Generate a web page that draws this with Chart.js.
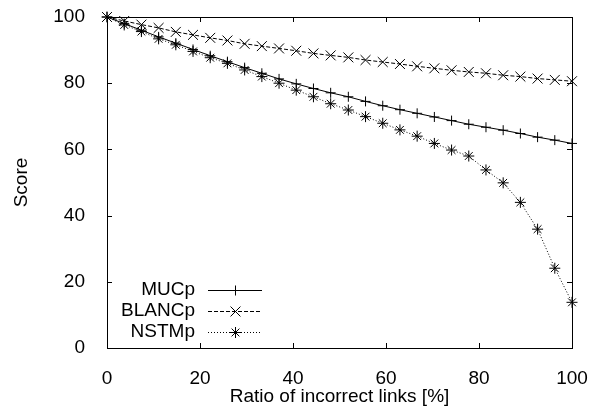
<!DOCTYPE html>
<html>
<head>
<meta charset="utf-8">
<script src="https://cdn.jsdelivr.net/npm/chart.js@4.4.1/dist/chart.umd.min.js"></script>
<style>
  html, body { margin: 0; padding: 0; background: #fff; }
  #wrap { width: 604px; height: 414px; }
</style>
</head>
<body>
<div id="wrap"><canvas id="scoreChart"></canvas></div>
<script>
// ratio of incorrect links [%], one sample every 1/27 of the range
const ratios = [0, 3.7, 7.4, 11.1, 14.8, 18.5, 22.2, 25.9, 29.6, 33.3, 37.0, 40.7, 44.4, 48.1,
  51.9, 55.6, 59.3, 63.0, 66.7, 70.4, 74.1, 77.8, 81.5, 85.2, 88.9, 92.6, 96.3, 100];
const mucp = [100, 98.0, 96.0, 94.0, 92.1, 90.2, 88.3, 86.5, 84.7, 83.0, 81.3, 79.8, 78.4, 77.1,
  75.9, 74.5, 73.2, 72.0, 70.9, 69.8, 68.7, 67.6, 66.7, 65.8, 64.8, 63.7, 62.8, 61.8];
const blancp = [100, 98.8, 97.7, 96.7, 95.5, 94.6, 93.7, 92.9, 91.9, 91.2, 90.5, 89.8, 89.0, 88.4,
  87.8, 87.0, 86.4, 85.8, 85.1, 84.5, 83.9, 83.4, 83.0, 82.4, 82.0, 81.4, 81.0, 80.6];
const nstmp = [100, 97.6, 95.6, 93.4, 91.6, 89.6, 87.7, 86.0, 84.0, 82.0, 80.0, 77.9, 75.9, 73.8,
  71.9, 69.9, 67.9, 65.9, 64.0, 61.8, 59.8, 58.0, 53.8, 49.9, 44.0, 35.9, 24.1, 13.8];
const seriesNames = ['MUCp', 'BLANCp', 'NSTMp'];
const axisTicks = [0, 20, 40, 60, 80, 100];

const FONT = 'Liberation Sans, Arial, Helvetica, sans-serif';
const FONT_SIZE = 19;

function toPoints(values) {
  return values.map(function (v, i) { return { x: ratios[i], y: v }; });
}

function makeSet(label, values, style, dash, radius) {
  return {
    label: label,
    data: toPoints(values),
    borderColor: '#000',
    backgroundColor: '#000',
    borderWidth: 1,
    borderDash: dash,
    pointStyle: style,
    pointRadius: radius,
    pointBorderWidth: 1,
    pointBorderColor: '#000',
    tension: 0,
    clip: false
  };
}

// small marker painter for the legend samples
function drawMarker(ctx, style, r, x, y) {
  ctx.beginPath();
  if (style === 'cross' || style === 'star') {
    ctx.moveTo(x - r, y); ctx.lineTo(x + r, y);
    ctx.moveTo(x, y - r); ctx.lineTo(x, y + r);
  }
  if (style === 'crossRot' || style === 'star') {
    const d = Math.cos(Math.PI / 4) * r;
    ctx.moveTo(x - d, y - d); ctx.lineTo(x + d, y + d);
    ctx.moveTo(x - d, y + d); ctx.lineTo(x + d, y - d);
  }
  ctx.stroke();
}

// gnuplot style frame: full border, ticks pointing inwards on all four sides,
// and a key in the lower left corner with the text on the left of the sample
const framePlugin = {
  id: 'framePlugin',
  beforeDatasetsDraw: function (chart) {
    const ctx = chart.ctx;
    const a = chart.chartArea;
    const xs = chart.scales.x;
    const ys = chart.scales.y;
    const len = 5;
    ctx.save();
    ctx.strokeStyle = '#000';
    ctx.lineWidth = 1;
    ctx.setLineDash([]);
    ctx.strokeRect(Math.round(a.left) + 0.5, Math.round(a.top) + 0.5,
      Math.round(a.right - a.left), Math.round(a.bottom - a.top));
    ctx.beginPath();
    axisTicks.forEach(function (t) {
      const px = Math.round(xs.getPixelForValue(t)) + 0.5;
      ctx.moveTo(px, a.bottom); ctx.lineTo(px, a.bottom - len);
      ctx.moveTo(px, a.top); ctx.lineTo(px, a.top + len);
      const py = Math.round(ys.getPixelForValue(t)) + 0.5;
      ctx.moveTo(a.left, py); ctx.lineTo(a.left + len, py);
      ctx.moveTo(a.right, py); ctx.lineTo(a.right - len, py);
    });
    ctx.stroke();
    ctx.restore();
  },
  afterDraw: function (chart) {
    const ctx = chart.ctx;
    const a = chart.chartArea;
    ctx.save();
    ctx.font = FONT_SIZE + 'px ' + FONT;
    ctx.textAlign = 'right';
    ctx.textBaseline = 'middle';
    ctx.fillStyle = '#000';
    ctx.strokeStyle = '#000';
    ctx.lineWidth = 1;
    chart.data.datasets.forEach(function (ds, i) {
      const y = a.top + 273 + i * 21;
      ctx.fillText(ds.label, a.left + 88, y);
      ctx.setLineDash(ds.borderDash);
      ctx.beginPath();
      ctx.moveTo(a.left + 101, y + 0.5);
      ctx.lineTo(a.left + 155, y + 0.5);
      ctx.stroke();
      ctx.setLineDash([]);
      drawMarker(ctx, ds.pointStyle, ds.pointRadius, a.left + 128.5, y + 0.5);
    });
    ctx.restore();
  }
};

const ctx = document.getElementById('scoreChart');
new Chart(ctx, {
  type: 'line',
  data: {
    datasets: [
      makeSet(seriesNames[0], mucp, 'cross', [], 5),
      makeSet(seriesNames[1], blancp, 'crossRot', [4, 2], 7),
      makeSet(seriesNames[2], nstmp, 'star', [1, 2], 5.5)
    ]
  },
  options: {
    responsive: true,
    maintainAspectRatio: false,
    animation: false,
    layout: { padding: { top: 17, right: 32, bottom: 0, left: 0 } },
    plugins: {
      legend: { display: false },
      tooltip: { enabled: false }
    },
    scales: {
      x: {
        type: 'linear',
        min: 0,
        max: 100,
        afterBuildTicks: function (scale) {
          scale.ticks = axisTicks.map(function (v) { return { value: v }; });
        },
        afterFit: function (scale) {
          scale.height = 66;
          scale.paddingLeft = 0;
          scale.paddingRight = 0;
        },
        grid: { display: false },
        border: { display: false },
        ticks: {
          color: '#000',
          padding: 11,
          maxRotation: 0,
          font: { family: FONT, size: FONT_SIZE }
        },
        title: {
          display: true,
          text: 'Ratio of incorrect links [%]',
          color: '#000',
          padding: { top: 0, bottom: 6 },
          font: { family: FONT, size: FONT_SIZE }
        }
      },
      y: {
        type: 'linear',
        min: 0,
        max: 100,
        afterBuildTicks: function (scale) {
          scale.ticks = axisTicks.map(function (v) { return { value: v }; });
        },
        afterFit: function (scale) {
          scale.width = 107;
          scale.paddingTop = 0;
          scale.paddingBottom = 0;
        },
        grid: { display: false },
        border: { display: false },
        ticks: {
          color: '#000',
          padding: 14,
          font: { family: FONT, size: FONT_SIZE }
        },
        title: {
          display: true,
          text: 'Score',
          color: '#000',
          padding: { top: 10, bottom: 0 },
          font: { family: FONT, size: FONT_SIZE }
        }
      }
    }
  },
  plugins: [framePlugin]
});
</script>
</body>
</html>
